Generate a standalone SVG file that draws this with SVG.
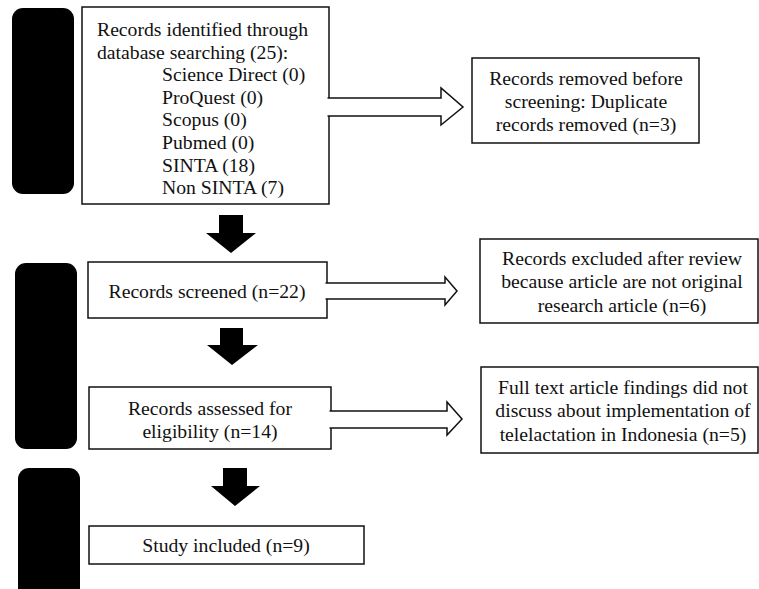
<svg xmlns="http://www.w3.org/2000/svg" width="759" height="589" viewBox="0 0 759 589">
<style>
.box{fill:#fff;stroke:#111;stroke-width:1.5}
.bar{fill:#000}
.t{font-family:"Liberation Serif","Times New Roman",serif;font-size:19.7px;fill:#111}
.m{text-anchor:middle}
.hollow{fill:#fff;stroke:#111;stroke-width:1.5;stroke-linejoin:miter}
.solid{fill:#000}
</style>
<rect width="759" height="589" fill="#fff"/>
<g id="phase-bars">
<rect class="bar" x="12" y="8" width="62" height="186" rx="11"/>
<rect class="bar" x="15" y="263" width="62" height="186" rx="11"/>
<rect class="bar" x="18" y="468" width="62" height="140" rx="11"/>
</g>
<g id="identified">
<rect class="box" x="82" y="7" width="247" height="197"/>
<text class="t" x="97" y="36">Records identified through</text>
<text class="t" x="97" y="58.6">database searching (25):</text>
<text class="t" x="162" y="81.2">Science Direct (0)</text>
<text class="t" x="162" y="103.8">ProQuest (0)</text>
<text class="t" x="162" y="126.4">Scopus (0)</text>
<text class="t" x="162" y="149">Pubmed (0)</text>
<text class="t" x="162" y="171.6">SINTA (18)</text>
<text class="t" x="162" y="194.2">Non SINTA (7)</text>
</g>
<g id="removed">
<rect class="box" x="472" y="58" width="227" height="85"/>
<text class="t m" x="586" y="85">Records removed before</text>
<text class="t m" x="586" y="108">screening: Duplicate</text>
<text class="t m" x="586" y="131">records removed (n=3)</text>
</g>
<g id="screened">
<rect class="box" x="88" y="262" width="239" height="56"/>
<text class="t m" x="207" y="298">Records screened (n=22)</text>
</g>
<g id="excluded">
<rect class="box" x="480" y="239" width="278" height="84"/>
<text class="t m" x="622" y="265">Records excluded after review</text>
<text class="t m" x="622" y="288">because article are not original</text>
<text class="t m" x="622" y="312">research article (n=6)</text>
</g>
<g id="assessed">
<rect class="box" x="89" y="387" width="242" height="62"/>
<text class="t m" x="210" y="415">Records assessed for</text>
<text class="t m" x="210" y="438">eligibility (n=14)</text>
</g>
<g id="fulltext">
<rect class="box" x="481" y="367" width="277" height="86"/>
<text class="t m" x="623" y="394">Full text article findings did not</text>
<text class="t m" x="623" y="417">discuss about implementation of</text>
<text class="t m" x="623" y="441">telelactation in Indonesia (n=5)</text>
</g>
<g id="included">
<rect class="box" x="89" y="526" width="275" height="38"/>
<text class="t m" x="226" y="552">Study included (n=9)</text>
</g>
<g id="connectors">
<path class="hollow" d="M327.5,98 H441 V88 L463,107 L441,125 V116 H327.5"/>
<path class="hollow" d="M325.5,283 H445 V277 L457,291 L445,305 V299 H325.5"/>
<path class="hollow" d="M329.5,411 H447 V402 L462,419 L447,435 V428 H329.5"/>
<path class="solid" d="M219,215 H243 V233 H256 L231,253 L206,233 H219 Z"/>
<path class="solid" d="M220,328 H243 V345 H258 L232,365 L207,345 H220 Z"/>
<path class="solid" d="M223,468 H247 V486 H260 L235,506 L211,486 H223 Z"/>
</g>
</svg>
